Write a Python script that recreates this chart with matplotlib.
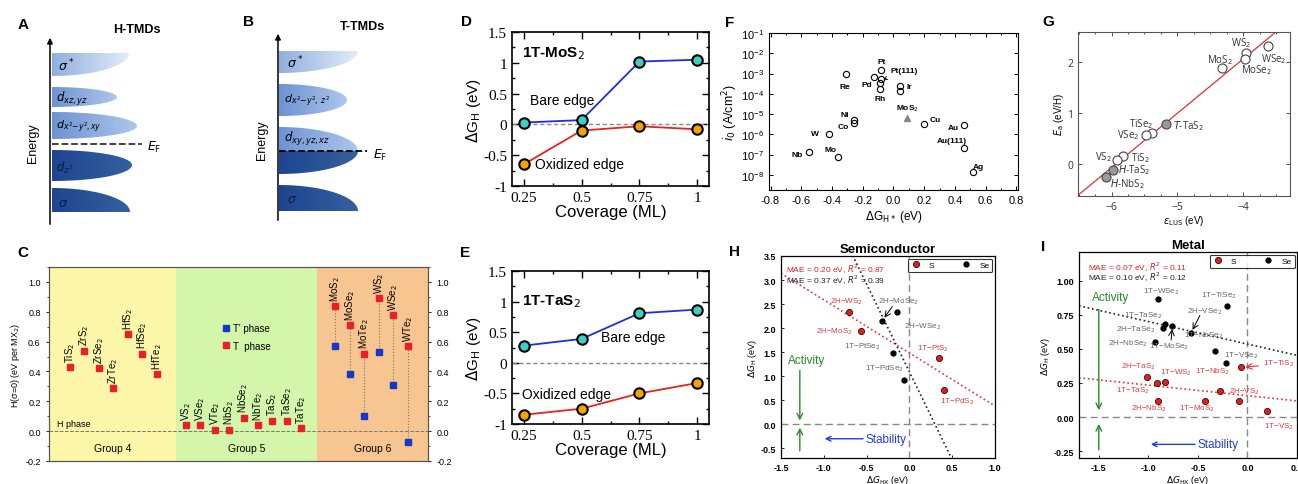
import numpy as np
import matplotlib
matplotlib.use('Agg')
import matplotlib.pyplot as plt
from matplotlib.patches import Polygon
from matplotlib.lines import Line2D
from matplotlib.colors import LinearSegmentedColormap
from matplotlib.ticker import MultipleLocator, FuncFormatter, LogLocator, NullLocator

plt.rcParams['font.family'] = ['Liberation Sans', 'DejaVu Sans']
plt.rcParams['mathtext.fontset'] = 'dejavusans'

# ---------------- dados ----------------
# C: entalpia de transicao de fase
g4_names = ['TiS$_2$', 'ZrS$_2$', 'ZrSe$_2$', 'ZrTe$_2$', 'HfS$_2$', 'HfSe$_2$', 'HfTe$_2$']
g4_T = [0.43, 0.54, 0.42, 0.29, 0.65, 0.52, 0.38]
g5_names = ['VS$_2$', 'VSe$_2$', 'VTe$_2$', 'NbS$_2$', 'NbSe$_2$', 'NbTe$_2$', 'TaS$_2$', 'TaSe$_2$', 'TaTe$_2$']
g5_T = [0.04, 0.04, 0.01, 0.01, 0.09, 0.04, 0.07, 0.07, 0.02]
g6_names = ['MoS$_2$', 'MoSe$_2$', 'MoTe$_2$', 'WS$_2$', 'WSe$_2$', 'WTe$_2$']
g6_T = [0.84, 0.71, 0.52, 0.89, 0.78, 0.57]
g6_Tp = [0.57, 0.38, 0.10, 0.53, 0.31, -0.07]

# D, E: cobertura
coverage = [0.25, 0.5, 0.75, 1.0]
mos2_bare = [0.03, 0.07, 1.02, 1.05]
mos2_ox = [-0.65, -0.10, -0.03, -0.08]
tas2_bare = [0.28, 0.39, 0.81, 0.87]
tas2_ox = [-0.85, -0.75, -0.50, -0.33]

# F: curva vulcao
f_dG = [-0.55, -0.42, -0.36, -0.26, -0.26, -0.31, -0.13, -0.08, -0.08, -0.085, -0.09,
        0.04, 0.04, 0.20, 0.46, 0.46, 0.52]
f_i0 = [1.3e-7, 1.0e-6, 7.2e-8, 3.6e-6, 5.0e-6, 9.1e-4, 6.9e-4, 1.5e-3, 5.2e-4, 3.3e-4, 1.7e-4,
        2.5e-4, 1.4e-4, 3.2e-6, 3.0e-6, 2.0e-7, 1.3e-8]
f_mos2_dG = [0.09]
f_mos2_i0 = [6.6e-6]
f_labels = ['Nb', 'W', 'Mo', 'Co', 'Ni', 'Re', 'Pd', 'Pt', 'Rh', 'Ir', 'MoS$_2$', 'Cu', 'Au', 'Au(111)', 'Ag']

# G: Ea vs eLUS
g_names = ['WS$_2$', 'WSe$_2$', 'MoS$_2$', 'MoSe$_2$', 'TiSe$_2$', 'VSe$_2$', 'TiS$_2$', 'VS$_2$',
           '$T$-TaS$_2$', '$H$-TaS$_2$', '$H$-NbS$_2$']
g_eLUS = [-3.965, -3.63, -4.32, -3.98, -5.38, -5.47, -5.82, -5.92, -5.17, -5.98, -6.08]
g_Ea = [2.18, 2.32, 1.89, 2.06, 0.61, 0.575, 0.16, 0.07, 0.78, -0.11, -0.26]
g_filled = [False] * 8 + [True] * 3
g_fit = (1.07, 6.35)

# H: semicondutores
hS_names = ['2H\u2212WS$_2$', '2H\u2212MoS$_2$', '1T\u2212PtS$_2$', '1T\u2212PdS$_2$']
hS_x = [-0.71, -0.57, 0.34, 0.41]
hS_y = [2.33, 1.95, 1.37, 0.72]
hSe_names = ['2H\u2212MoSe$_2$', '2H\u2212WSe$_2$', '1T\u2212PtSe$_2$', '1T\u2212PdSe$_2$']
hSe_x = [-0.32, -0.145, -0.19, -0.06]
hSe_y = [2.14, 2.34, 1.48, 0.93]
hS_fit = (-1.104, 1.484)
hSe_fit = (-3.65, 1.09)

# I: metais
iSe_names = ['1T\u2212WSe$_2$', '1T\u2212TiSe$_2$', '1T\u2212TaSe$_2$', '2H\u2212TaSe$_2$', '1T\u2212MoSe$_2$',
             '2H\u2212VSe$_2$', '2H\u2212NbSe$_2$', '1T\u2212NbSe$_2$', '1T\u2212VSe$_2$']
iSe_x = [-0.906, -0.204, -0.832, -0.855, -0.76, -0.574, -0.933, -0.33, -0.22]
iSe_y = [0.862, 0.815, 0.68, 0.656, 0.668, 0.619, 0.548, 0.486, 0.393]
iS_names = ['1T\u2212TiS$_2$', '2H\u2212TaS$_2$', '1T\u2212TaS$_2$', '1T\u2212WS$_2$', '1T\u2212NbS$_2$',
            '2H\u2212VS$_2$', '2H\u2212NbS$_2$', '1T\u2212MoS$_2$', '1T\u2212VS$_2$']
iS_x = [-0.065, -1.018, -0.916, -0.828, -0.278, -0.081, -0.906, -0.431, 0.197]
iS_y = [0.366, 0.292, 0.248, 0.255, 0.189, 0.118, 0.12, 0.118, 0.047]
iS_fit = (-0.077, 0.157)
iSe_fit = (-0.165, 0.535)

# ---------------- figura ----------------
W, H = 1298, 485
fig = plt.figure(figsize=(W / 100, H / 100), dpi=100)


def px_axes(l, t, r, b):
    return fig.add_axes([l / W, 1 - b / H, (r - l) / W, (b - t) / H])


RED = '#e8202a'
BLUE = '#1638c8'

# camada em pixels para A, B e letras
ov = fig.add_axes([0, 0, 1, 1])
ov.patch.set_visible(False)
ov.axis('off')

cm_light = LinearSegmentedColormap.from_list('l', ['#8fb0df', '#e2ebf8'])
cm_mid = LinearSegmentedColormap.from_list('m', ['#6d93d1', '#adc6eb'])
cm_dark = LinearSegmentedColormap.from_list('d', ['#1f4590', '#34609f'])
grad = np.linspace(0, 1, 64).reshape(1, -1)


def quarter(x0, y_flat, y_far, x_right, cmap):
    t = np.linspace(0, np.pi / 2, 50)
    xs = x0 + (x_right - x0) * np.cos(t)
    ys = y_flat + (y_far - y_flat) * np.sin(t)
    pts = np.column_stack([np.r_[x0, xs], np.r_[y_flat, ys]])
    patch = Polygon(pts, closed=True, fc='none', ec='none')
    ov.add_patch(patch)
    im = ov.imshow(grad, extent=(x0, x_right, max(y_flat, y_far), min(y_flat, y_far)),
                   cmap=cmap, aspect='auto', interpolation='bilinear')
    im.set_clip_path(patch)


# A: H-TMDs
xa = 52
quarter(xa, 54, 77, 129, cm_light)
for mid, top, bot, right, cm in [(98, 88, 108, 117, cm_mid), (127, 113, 140, 137, cm_mid),
                                  (166, 151, 182, 132, cm_dark)]:
    quarter(xa, mid, top, right, cm)
    quarter(xa, mid, bot, right, cm)
quarter(xa, 213, 189, 130, cm_dark)
ov.annotate('', xy=(50, 36), xytext=(50, 228),
            arrowprops=dict(arrowstyle='-|>', lw=1.1, color='black', mutation_scale=8))
ov.plot([52, 142], [145, 145], ls='--', color='#333333', lw=1.3)
ov.text(147, 147, r'$E_{\rm F}$', fontsize=9, va='center')
ov.text(33, 143, 'Energy', rotation=90, fontsize=9, ha='center', va='center')
ov.text(137, 30, 'H-TMDs', fontsize=9, fontweight='bold', ha='center', va='center')
ov.text(58, 66, r'$\sigma^*$', fontsize=9, va='center')
ov.text(56, 99, r'$d_{xz,yz}$', fontsize=8.5, va='center')
ov.text(56, 127, r'$d_{x^2\!-\!y^2\!,xy}$', fontsize=8, va='center')
ov.text(56, 168, r'$d_{z^2}$', fontsize=8.5, va='center', color='#0b1d40')
ov.text(58, 204, r'$\sigma$', fontsize=9, va='center', color='#0b1d40')

# B: T-TMDs
xb = 279
quarter(xb, 52, 74, 358, cm_light)
quarter(xb, 101, 85, 347, cm_mid)
quarter(xb, 101, 117, 347, cm_mid)
quarter(xb, 152, 128, 358, cm_mid)
quarter(xb, 152, 175, 358, cm_dark)
quarter(xb, 212, 186, 358, cm_dark)
ov.annotate('', xy=(278, 32), xytext=(278, 224),
            arrowprops=dict(arrowstyle='-|>', lw=1.1, color='black', mutation_scale=8))
ov.plot([279, 367], [152, 152], ls='--', color='black', lw=1.3)
ov.text(373, 155, r'$E_{\rm F}$', fontsize=9, va='center')
ov.text(262, 140, 'Energy', rotation=90, fontsize=9, ha='center', va='center')
ov.text(362, 27, 'T-TMDs', fontsize=9, fontweight='bold', ha='center', va='center')
ov.text(287, 63, r'$\sigma^*$', fontsize=9, va='center')
ov.text(284, 101, r'$d_{x^2\!-\!y^2\!,\ z^2}$', fontsize=8, va='center')
ov.text(284, 139, r'$d_{xy,yz,xz}$', fontsize=8.5, va='center')
ov.text(287, 200, r'$\sigma$', fontsize=9, va='center', color='#0b1d40')

for letter, (lx, ly) in {'A': (23, 25), 'B': (248, 22), 'C': (23, 253), 'D': (467, 22),
                         'E': (465, 253), 'F': (730, 23), 'G': (1048, 22), 'H': (735, 252),
                         'I': (1043, 247)}.items():
    ov.text(lx, ly, letter, fontsize=11, fontweight='bold', ha='center', va='center')
ov.set_xlim(0, W)
ov.set_ylim(H, 0)

# C
axC = px_axes(49, 268, 428, 462)
x4 = 1.45 + np.arange(len(g4_T))
x5 = 9.45 + np.arange(len(g5_T))
x6 = 19.8 + np.arange(len(g6_T))
axC.axvspan(0, 8.8, color='#fbf6a8', lw=0)
axC.axvspan(8.8, 18.5, color='#d4f6aa', lw=0)
axC.axvspan(18.5, 26.2, color='#f6c590', lw=0)
axC.axhline(0, ls='--', color='#777777', lw=0.7)
axC.vlines(x6, g6_Tp, g6_T, colors='#777777', linestyles=':', lw=0.8)
tp, = axC.plot(x6, g6_Tp, 's', color=BLUE, ms=4.5, label="T' phase")
tt, = axC.plot(np.r_[x4, x5, x6], g4_T + g5_T + g6_T, 's', color=RED, ms=4.5, label='T  phase')
for xs, ys, names in [(x4, g4_T, g4_names), (x5, g5_T, g5_names), (x6, g6_T, g6_names)]:
    for x, y, n in zip(xs, ys, names):
        axC.text(x, y + 0.035, n, rotation=90, ha='center', va='bottom', fontsize=7)
axC.legend(handles=[tp, tt], loc='center left', bbox_to_anchor=(0.43, 0.64), frameon=False,
           fontsize=7, handletextpad=0.3, labelspacing=0.8, handlelength=1)
for cx, g in [(4.4, 'Group 4'), (13.65, 'Group 5'), (22.35, 'Group 6')]:
    axC.text(cx, -0.11, g, ha='center', va='center', fontsize=7.5)
axC.text(0.55, 0.05, 'H phase', fontsize=6.5, va='center')
axC.set_xlim(0, 26.2)
axC.set_ylim(-0.2, 1.1)
axC.set_xticks([])
axC.yaxis.set_major_locator(MultipleLocator(0.2))
axC.yaxis.set_minor_locator(MultipleLocator(0.1))
axC.yaxis.set_major_formatter(FuncFormatter(lambda v, p: '%.1f' % v))
axC.tick_params(labelsize=6.5, length=2.5, width=0.6)
axC.tick_params(which='minor', length=1.5, width=0.5)
axC.set_ylabel('H(\u03c3=0) (eV per MX$_2$)', fontsize=6.5, labelpad=2)
axC2 = axC.twinx()
axC2.set_ylim(-0.2, 1.1)
axC2.yaxis.set_major_locator(MultipleLocator(0.2))
axC2.yaxis.set_minor_locator(MultipleLocator(0.1))
axC2.yaxis.set_major_formatter(FuncFormatter(lambda v, p: '%.1f' % v))
axC2.tick_params(labelsize=6.5, length=2.5, width=0.6)
axC2.tick_params(which='minor', length=1.5, width=0.5)
for a in (axC, axC2):
    for s in a.spines.values():
        s.set_color('#555555')
        s.set_linewidth(0.8)


# D, E
def cov_panel(ax, bare, ox, title, title_xy, bare_xy, ox_xy):
    ax.axhline(0, color='#888888', ls='--', lw=1.0, dashes=(3, 2))
    ax.plot(coverage, bare, '-o', color='#1a2ee6', mfc='#3fcfc0', mec='black', mew=1.5, ms=7.5, lw=1.3)
    ax.plot(coverage, ox, '-o', color='#e62222', mfc='#f5a300', mec='black', mew=1.5, ms=7.5, lw=1.3)
    ax.set_xlim(0.2, 1.05)
    ax.set_ylim(-1, 1.5)
    ax.set_xticks(coverage)
    ax.xaxis.set_minor_locator(MultipleLocator(0.125))
    ax.yaxis.set_major_locator(MultipleLocator(0.5))
    ax.yaxis.set_minor_locator(MultipleLocator(0.25))
    fmt = FuncFormatter(lambda v, p: '%g' % v)
    ax.xaxis.set_major_formatter(fmt)
    ax.yaxis.set_major_formatter(fmt)
    ax.tick_params(which='both', direction='in', top=True, right=True, width=1)
    ax.tick_params(which='major', length=5)
    ax.tick_params(which='minor', length=2.5)
    for lab in ax.get_xticklabels() + ax.get_yticklabels():
        lab.set_fontfamily('Liberation Serif')
        lab.set_fontsize(11)
    for s in ax.spines.values():
        s.set_linewidth(1.2)
    ax.set_ylabel(r'$\Delta$G$_{\rm H}$ (eV)', fontsize=11, labelpad=0)
    ax.set_xlabel('Coverage (ML)', fontsize=12, labelpad=0)
    ax.text(title_xy[0], title_xy[1], title, fontsize=11, fontweight='bold', va='center')
    ax.text(bare_xy[0], bare_xy[1], 'Bare edge', fontsize=10, va='center')
    ax.text(ox_xy[0], ox_xy[1], 'Oxidized edge', fontsize=10, va='center')


axD = px_axes(512, 33, 709, 187)
cov_panel(axD, mos2_bare, mos2_ox, '1T-MoS$_2$', (0.245, 1.16), (0.276, 0.40), (0.30, -0.64))
axE = px_axes(512, 272, 709, 425)
cov_panel(axE, tas2_bare, tas2_ox, '1T-TaS$_2$', (0.245, 1.02), (0.585, 0.42), (0.245, -0.51))

# F
axF = px_axes(769, 34, 1018, 191)
axF.set_yscale('log')
axF.plot(f_dG, f_i0, 'o', mfc='none', mec='black', mew=0.8, ms=4.5)
axF.plot(f_mos2_dG, f_mos2_i0, '^', color='#888888', ms=5)
f_lbl_pos = [(-0.63, -7.0), (-0.51, -5.94), (-0.41, -6.77), (-0.33, -5.6), (-0.315, -5.0),
             (-0.315, -3.64), (-0.174, -3.56), (-0.077, -2.41), (-0.084, -4.24), (0.10, -3.64),
             (0.09, -4.69), (0.27, -5.25), (0.39, -5.65), (0.38, -6.29), (0.55, -7.57)]
for name, (lx, ly) in zip(f_labels, f_lbl_pos):
    axF.text(lx, 10 ** ly, name, fontsize=6, fontweight='bold', ha='center', va='center')
axF.annotate('Pt(111)', xy=(-0.075, 10 ** -3.33), xytext=(0.07, 10 ** -2.84), fontsize=6,
             fontweight='bold', ha='center', va='center',
             arrowprops=dict(arrowstyle='->', lw=0.6, shrinkA=3, shrinkB=1))
axF.set_xlim(-0.81, 0.81)
axF.set_ylim(10 ** -8.75, 10 ** -1)
axF.xaxis.set_major_locator(MultipleLocator(0.2))
axF.xaxis.set_minor_locator(MultipleLocator(0.1))
axF.xaxis.set_major_formatter(FuncFormatter(lambda v, p: '%.1f' % v))
axF.yaxis.set_major_locator(LogLocator(base=10, numticks=12))
axF.yaxis.set_minor_locator(NullLocator())
axF.tick_params(which='both', direction='in', top=True, right=True, labelsize=8, width=0.7)
axF.tick_params(which='major', length=3)
axF.tick_params(which='minor', length=1.5)
axF.set_ylabel(r'$i_0$ (A/cm$^2$)', fontsize=9, labelpad=1)
axF.set_xlabel(r'$\Delta$G$_{\rm H*}$ (eV)', fontsize=8.5, labelpad=2)

# G
axG = px_axes(1078, 33, 1290, 197)
gx = np.array([-6.51, -3.29])
axG.plot(gx, g_fit[0] * gx + g_fit[1], color='#e03030', lw=0.9)
g_lbl_pos = [(-4.03, 2.40), (-3.53, 2.09), (-4.36, 2.07), (-3.80, 1.86), (-5.55, 0.81),
             (-5.75, 0.59), (-5.56, 0.14), (-6.13, 0.16), (-4.83, 0.76), (-5.65, -0.10),
             (-5.76, -0.37)]
for n, x, y, f, (lx, ly) in zip(g_names, g_eLUS, g_Ea, g_filled, g_lbl_pos):
    axG.plot(x, y, 'o', mfc='#999999' if f else 'white', mec='#444444', mew=0.8, ms=6.5)
    axG.text(lx, ly, n, fontsize=7, family='Open Sans', color='#333333', ha='center', va='center')
axG.set_xlim(-6.51, -3.29)
axG.set_ylim(-0.63, 2.6)
axG.set_xticks([-6, -5, -4])
axG.set_yticks([0, 1, 2])
axG.xaxis.set_minor_locator(MultipleLocator(0.25))
axG.tick_params(which='both', direction='in', top=True, right=True, labelsize=7.5, width=0.6,
                colors='#333333')
axG.tick_params(which='major', length=3)
axG.tick_params(which='minor', length=1.5)
for lab in axG.get_xticklabels() + axG.get_yticklabels():
    lab.set_fontfamily('Open Sans')
for s in axG.spines.values():
    s.set_color('#555555')
    s.set_linewidth(0.8)
axG.set_xlabel(r'$\varepsilon_{\rm LUS}$ (eV)', fontsize=7, labelpad=1)
axG.set_ylabel(r'$E_{\rm a}$ (eV/H)', fontsize=7, labelpad=1)

GREEN = '#2a8a2a'
SBLUE = '#1f3de6'
LRED = '#e8383d'


def hx_panel(ax, xlim, ylim, title, sx, sy, sn, sex, sey, sen, s_fit, se_fit, s_pos, se_pos,
             mae_s, mae_se, mae_xy, act_x, act_text_xy, act_down, act_up, stab):
    ax.axhline(0, color='#888888', ls=(0, (5, 3)), lw=1.0)
    ax.axvline(0, color='#888888', ls=(0, (5, 3)), lw=1.0)
    xx = np.array(xlim)
    ax.plot(xx, s_fit[0] * xx + s_fit[1], ls=':', color='#e83030', lw=1.2)
    ax.plot(xx, se_fit[0] * xx + se_fit[1], ls=':', color='#222222', lw=1.2)
    ax.plot(sx, sy, 'o', mfc='#e81a1a', mec='black', mew=0.5, ms=4.5, ls='none')
    ax.plot(sex, sey, 'o', color='black', ms=3.5, ls='none')
    for n, (lx, ly) in zip(sn, s_pos):
        ax.text(lx, ly, n, fontsize=5.8, color=LRED, ha='center', va='center')
    for n, (lx, ly) in zip(sen, se_pos):
        ax.text(lx, ly, n, fontsize=5.8, color='#666666', ha='center', va='center')
    ax.text(mae_xy[0], mae_xy[1][0], mae_s, fontsize=6, color='#e02020', va='center')
    ax.text(mae_xy[0], mae_xy[1][1], mae_se, fontsize=6, color='#222222', va='center')
    ax.text(act_text_xy[0], act_text_xy[1], 'Activity', fontsize=8.5, color=GREEN, ha='center', va='center')
    ax.annotate('', xy=(act_x, act_down[1]), xytext=(act_x, act_down[0]),
                arrowprops=dict(arrowstyle='->', color=GREEN, lw=1.0, shrinkA=0, shrinkB=0))
    ax.annotate('', xy=(act_x, act_up[1]), xytext=(act_x, act_up[0]),
                arrowprops=dict(arrowstyle='->', color=GREEN, lw=1.0, shrinkA=0, shrinkB=0))
    ax.annotate('Stability', xy=(stab[1], stab[2]), xytext=(stab[0], stab[2]), fontsize=8.5,
                color=SBLUE, ha='left', va='center',
                arrowprops=dict(arrowstyle='->', color=SBLUE, lw=1.0, shrinkA=0, shrinkB=0))
    hs = [Line2D([], [], marker='o', ls='none', mfc='#e81a1a', mec='black', mew=0.5, ms=4.5),
          Line2D([], [], marker='o', ls='none', color='black', ms=3.5)]
    leg = ax.legend(hs, ['S', 'Se'], ncol=2, loc='upper right', fontsize=6, frameon=True,
                    fancybox=True, edgecolor='black', handletextpad=1.0, columnspacing=3.2,
                    borderaxespad=0.3, borderpad=0.35, handlelength=1.2)
    leg.get_frame().set_linewidth(0.8)
    ax.set_xlim(xlim)
    ax.set_ylim(ylim)
    ax.set_title(title, fontsize=9.5, fontweight='bold', pad=3)
    ax.tick_params(direction='in', length=2, width=0.6, labelsize=6.5)
    for lab in ax.get_xticklabels() + ax.get_yticklabels():
        lab.set_fontweight('bold')
    ax.set_xlabel(r'$\Delta G_{\rm HX}$ (eV)', fontsize=6.5, labelpad=1)
    ax.set_ylabel(r'$\Delta G_{\rm H}$ (eV)', fontsize=6.5, labelpad=1)
    for s in ax.spines.values():
        s.set_linewidth(0.9)


axH = px_axes(781, 257, 995, 459)
axH.xaxis.set_major_locator(MultipleLocator(0.5))
axH.yaxis.set_major_locator(MultipleLocator(0.5))
axH.xaxis.set_major_formatter(FuncFormatter(lambda v, p: '%.1f' % v))
axH.yaxis.set_major_formatter(FuncFormatter(lambda v, p: '%.1f' % v))
hS_pos = [(-0.74, 2.56), (-0.875, 1.94), (0.27, 1.60), (0.56, 0.50)]
hSe_pos = [(-0.13, 2.57), (0.16, 2.06), (-0.55, 1.63), (-0.29, 1.18)]
hx_panel(axH, (-1.5, 1.0), (-0.7, 3.5), 'Semiconductor', hS_x, hS_y, hS_names, hSe_x, hSe_y,
         hSe_names, hS_fit, hSe_fit, hS_pos, hSe_pos,
         r'MAE = 0.20 eV, $R^2$ = 0.87', r'MAE = 0.37 eV, $R^2$ = 0.39', (-1.44, (3.24, 3.01)),
         -1.28, (-1.2, 1.34), (1.12, 0.08), (-0.55, -0.07), (-0.51, -0.99, -0.3))
axH.annotate('', xy=(-0.31, 2.17), xytext=(-0.2, 2.45),
             arrowprops=dict(arrowstyle='->', color='black', lw=0.7, shrinkA=0, shrinkB=2))

axI = px_axes(1079, 253, 1297, 459)
axI.xaxis.set_major_locator(MultipleLocator(0.5))
axI.yaxis.set_major_locator(MultipleLocator(0.25))
axI.xaxis.set_major_formatter(FuncFormatter(lambda v, p: '%.1f' % v))
axI.yaxis.set_major_formatter(FuncFormatter(lambda v, p: '%.2f' % v))
iSe_pos = [(-0.872, 0.923), (-0.292, 0.894), (-1.056, 0.748), (-1.127, 0.648), (-0.788, 0.52),
           (-0.428, 0.783), (-1.208, 0.545), (-0.445, 0.60), (-0.064, 0.457)]
iS_pos = [(0.31, 0.398), (-1.103, 0.373), (-1.154, 0.201), (-0.723, 0.329), (-0.353, 0.341),
          (-0.027, 0.194), (-0.998, 0.066), (-0.516, 0.066), (0.316, -0.064)]
hx_panel(axI, (-1.7, 0.5), (-0.3, 1.21), 'Metal', iS_x, iS_y, iS_names, iSe_x, iSe_y, iSe_names,
         iS_fit, iSe_fit, iS_pos, iSe_pos,
         r'MAE = 0.07 eV, $R^2$ = 0.11', r'MAE = 0.10 eV, $R^2$ = 0.12', (-1.61, (1.107, 1.029)),
         -1.5, (-1.38, 0.88), (0.79, 0.05), (-0.24, -0.05), (-0.5, -0.975, -0.2))
axI.annotate('', xy=(-0.56, 0.63), xytext=(-0.48, 0.745),
             arrowprops=dict(arrowstyle='->', color='black', lw=0.7, shrinkA=0, shrinkB=1))
axI.annotate('', xy=(-0.76, 0.655), xytext=(-0.77, 0.565),
             arrowprops=dict(arrowstyle='->', color='black', lw=0.7, shrinkA=0, shrinkB=1))
axI.annotate('', xy=(-0.035, 0.366), xytext=(0.11, 0.375),
             arrowprops=dict(arrowstyle='->', color='#e83030', lw=0.8, shrinkA=0, shrinkB=1))

fig.savefig('out.png', dpi=100)
